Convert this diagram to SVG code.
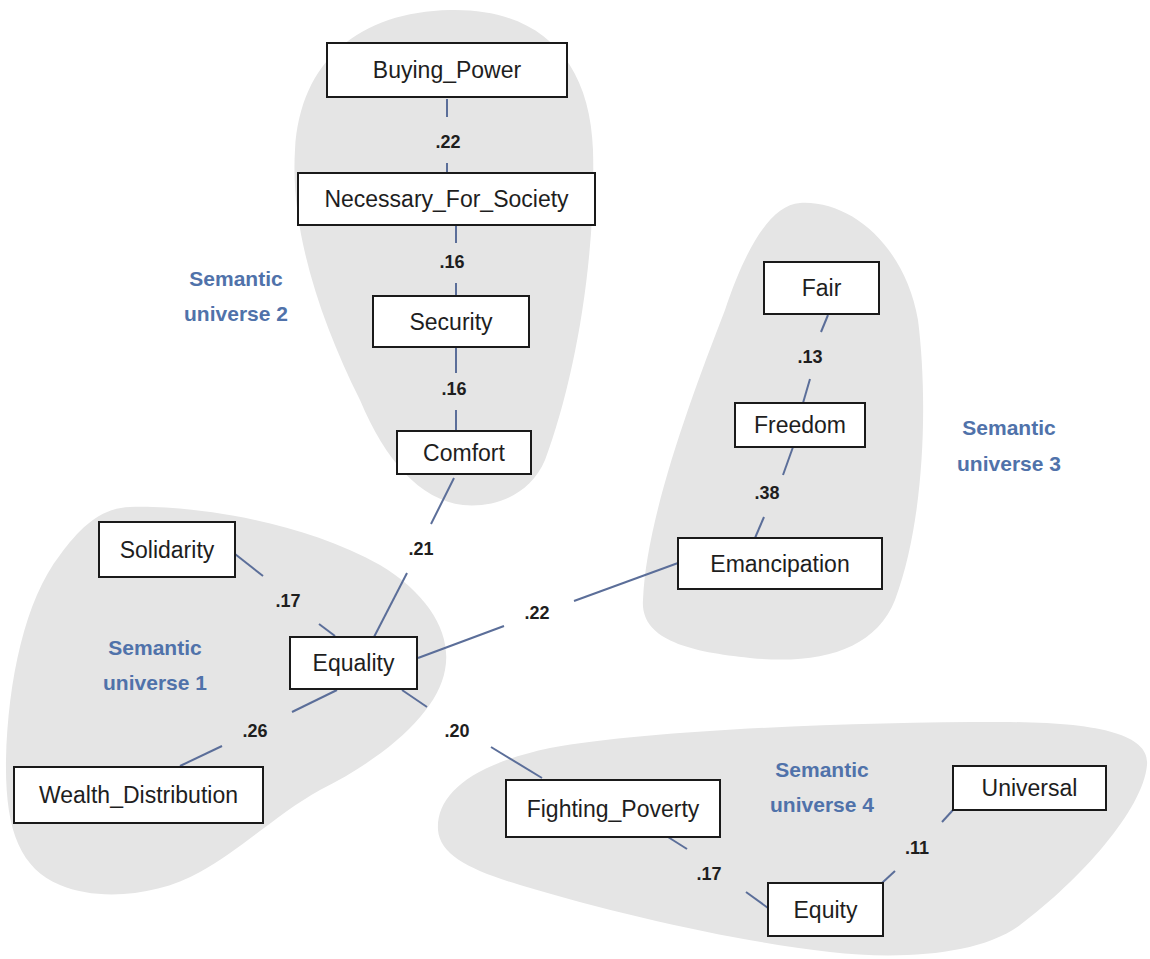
<svg xmlns="http://www.w3.org/2000/svg" width="1150" height="959" viewBox="0 0 1150 959">
<style>
.bg{fill:#ffffff}
.blob{fill:#e5e5e5}
.box{fill:#ffffff;stroke:#1a1a1a;stroke-width:2}
.nt{font-family:"Liberation Sans",Arial,sans-serif;font-size:23px;fill:#1e1e1e;text-anchor:middle}
.wt{font-family:"Liberation Sans",Arial,sans-serif;font-size:18px;font-weight:bold;fill:#1e1e1e;text-anchor:middle}
.su{font-family:"Liberation Sans",Arial,sans-serif;font-size:21px;font-weight:bold;fill:#5072aa;text-anchor:middle}
.c{stroke:#5b6e99;stroke-width:2;fill:none}
</style>
<rect class="bg" x="0" y="0" width="1150" height="959"/>
<g id="universes">
<path id="blob1" class="blob" d="M 130,507 C 190,505 300,520 380,565 C 430,595 452,635 445,670 C 438,710 390,755 320,790 C 280,812 240,850 200,872 C 160,895 100,902 60,885 C 20,868 5,830 6,760 C 8,680 25,600 60,555 C 80,528 100,508 130,507 Z"/>
<path id="blob2" class="blob" d="M 463,505 C 420,500 385,460 360,400 C 320,320 290,230 295,150 C 300,60 360,12 450,10 C 540,8 590,60 593,150 C 596,260 575,380 545,460 C 530,495 495,508 463,505 Z"/>
<path id="blob3" class="blob" d="M 800,203 C 850,200 905,245 918,320 C 928,400 925,520 895,600 C 875,650 820,665 750,658 C 690,652 640,640 643,600 C 646,520 690,400 725,310 C 745,250 770,205 800,203 Z"/>
<path id="blob4" class="blob" d="M 438,830 C 436,795 470,765 550,748 C 650,730 850,722 1000,722 C 1100,722 1150,735 1147,765 C 1143,810 1080,880 1020,925 C 980,955 900,960 830,952 C 740,942 620,915 520,885 C 470,870 440,855 438,830 Z"/>
<text class="su" x="155" y="655">Semantic</text>
<text class="su" x="155" y="690">universe 1</text>
<text class="su" x="236" y="286">Semantic</text>
<text class="su" x="236" y="321">universe 2</text>
<text class="su" x="1009" y="435">Semantic</text>
<text class="su" x="1009" y="471">universe 3</text>
<text class="su" x="822" y="777">Semantic</text>
<text class="su" x="822" y="812">universe 4</text>
</g>
<g id="connectors">
<line class="c" x1="447" y1="99" x2="447" y2="117"/><line class="c" x1="447" y1="163" x2="447" y2="173"/>
<line class="c" x1="456" y1="226" x2="456" y2="243"/><line class="c" x1="456" y1="283" x2="456" y2="296"/>
<line class="c" x1="456" y1="348" x2="456" y2="373"/><line class="c" x1="456" y1="410" x2="456" y2="431"/>
<line class="c" x1="454" y1="478" x2="431" y2="524"/><line class="c" x1="407" y1="573" x2="374" y2="637"/>
<line class="c" x1="235" y1="554" x2="263" y2="576"/><line class="c" x1="319" y1="624" x2="335" y2="636"/>
<line class="c" x1="180" y1="766" x2="222" y2="746"/><line class="c" x1="292" y1="712" x2="337" y2="690"/>
<line class="c" x1="418" y1="658" x2="504" y2="626"/><line class="c" x1="574" y1="601" x2="678" y2="563"/>
<line class="c" x1="402" y1="690" x2="427" y2="707"/><line class="c" x1="491" y1="747" x2="542" y2="778"/>
<line class="c" x1="668" y1="837" x2="687" y2="849"/><line class="c" x1="746" y1="892" x2="768" y2="908"/>
<line class="c" x1="882" y1="883" x2="895" y2="871"/><line class="c" x1="942" y1="822" x2="953" y2="810"/>
<line class="c" x1="828" y1="315" x2="821" y2="332"/><line class="c" x1="810" y1="379" x2="803" y2="403"/>
<line class="c" x1="793" y1="447" x2="783" y2="475"/><line class="c" x1="764" y1="517" x2="755" y2="538"/>
<text class="wt" x="448" y="148">.22</text>
<text class="wt" x="452" y="268">.16</text>
<text class="wt" x="454" y="395">.16</text>
<text class="wt" x="421" y="555">.21</text>
<text class="wt" x="288" y="607">.17</text>
<text class="wt" x="255" y="737">.26</text>
<text class="wt" x="537" y="619">.22</text>
<text class="wt" x="457" y="737">.20</text>
<text class="wt" x="709" y="880">.17</text>
<text class="wt" x="917" y="854">.11</text>
<text class="wt" x="810" y="363">.13</text>
<text class="wt" x="767" y="499">.38</text>
</g>
<g id="n-buying"><rect class="box" x="327" y="43" width="240" height="54"/><text class="nt" x="447" y="78">Buying_Power</text></g>
<g id="n-necessary"><rect class="box" x="298" y="173" width="297" height="52"/><text class="nt" x="446.5" y="207">Necessary_For_Society</text></g>
<g id="n-security"><rect class="box" x="373" y="296" width="156" height="51"/><text class="nt" x="451" y="330">Security</text></g>
<g id="n-comfort"><rect class="box" x="397" y="431" width="134" height="43"/><text class="nt" x="464" y="461">Comfort</text></g>
<g id="n-solidarity"><rect class="box" x="99" y="522" width="136" height="55"/><text class="nt" x="167" y="558">Solidarity</text></g>
<g id="n-equality"><rect class="box" x="290" y="637" width="127" height="52"/><text class="nt" x="353.5" y="671">Equality</text></g>
<g id="n-wealth"><rect class="box" x="14" y="767" width="249" height="56"/><text class="nt" x="138.5" y="803">Wealth_Distribution</text></g>
<g id="n-fair"><rect class="box" x="764" y="262" width="115" height="52"/><text class="nt" x="821.5" y="296">Fair</text></g>
<g id="n-freedom"><rect class="box" x="735" y="403" width="130" height="44"/><text class="nt" x="800" y="433">Freedom</text></g>
<g id="n-emancipation"><rect class="box" x="678" y="538" width="204" height="51"/><text class="nt" x="780" y="572">Emancipation</text></g>
<g id="n-fighting"><rect class="box" x="506" y="780" width="214" height="57"/><text class="nt" x="613" y="817">Fighting_Poverty</text></g>
<g id="n-equity"><rect class="box" x="768" y="883" width="115" height="53"/><text class="nt" x="825.5" y="918">Equity</text></g>
<g id="n-universal"><rect class="box" x="953" y="766" width="153" height="44"/><text class="nt" x="1029.5" y="796">Universal</text></g>
</svg>
